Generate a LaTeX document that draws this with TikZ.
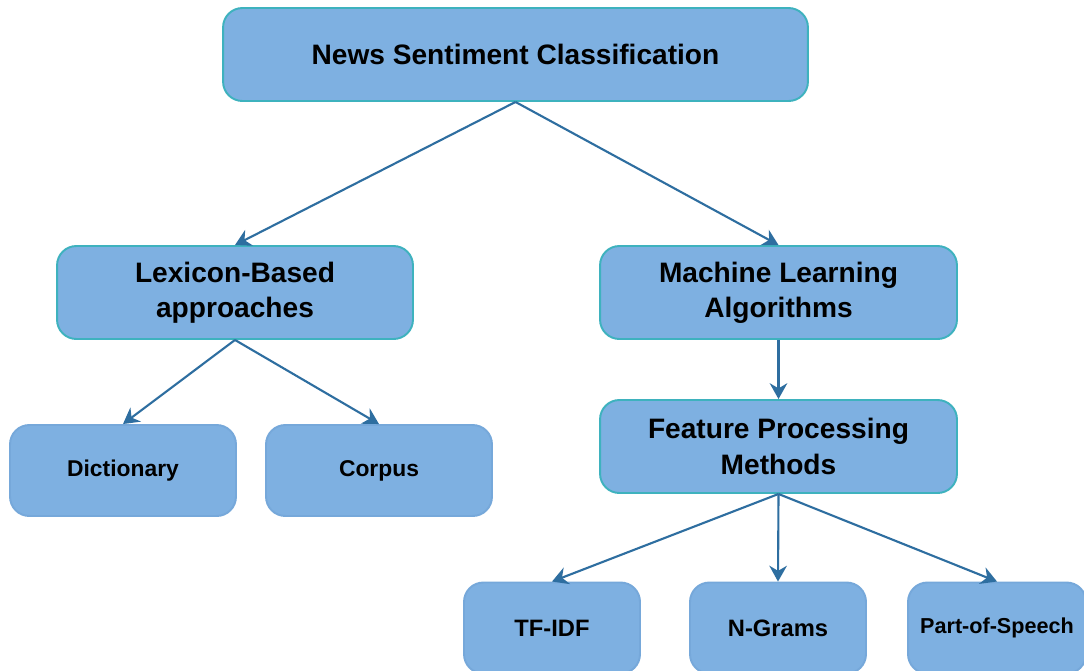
\documentclass[tikz,border=0pt]{standalone}
\usepackage{fontspec}
\setmainfont{Liberation Sans}
\usetikzlibrary{arrows.meta}
\definecolor{boxfill}{RGB}{126,176,225}
\definecolor{boxline}{RGB}{62,178,190}
\definecolor{leafline}{RGB}{118,168,218}
\definecolor{linkblue}{RGB}{46,110,160}
\tikzset{
  box/.style={draw=boxline, line width=1.1pt, fill=boxfill, rounded corners=11pt,
    align=center, minimum height=1.86cm, font=\bfseries\fontsize{16}{20}\selectfont},
  leaf/.style={box, draw=leafline, minimum height=1.82cm, minimum width=4.52cm,
    font=\bfseries\fontsize{13}{15}\selectfont},
  link/.style={draw=linkblue, line width=1.2pt, -{Stealth[length=9pt,width=10pt]}}
}
\begin{document}
\begin{tikzpicture}[x=0.02cm,y=-0.02cm]
    \clip (0,0) rectangle (1084,670);
    \fill[white] (0,0) rectangle (1084,670);
    \node[box, minimum width=11.7cm] (top) at (515.5,54.5) {News Sentiment Classification};
    \node[box, minimum width=7.12cm] (lex) at (235,292.5) {Lexicon-Based\\approaches};
    \node[box, minimum width=7.14cm] (ml) at (778.5,292.5) {Machine Learning\\Algorithms};
    \node[box, minimum width=7.14cm] (fpm) at (778.5,446.5) {Feature Processing\\Methods};
    \node[leaf] (dict) at (123,470.5) {Dictionary};
    \node[leaf] (corp) at (379,470.5) {Corpus};
    \node[leaf, minimum width=3.52cm, font=\bfseries\fontsize{13.5}{15}\selectfont] (tfidf) at (552,628) {TF-IDF};
    \node[leaf, minimum width=3.52cm, font=\bfseries\fontsize{13.5}{15}\selectfont] (ngram) at (778,628) {N-Grams};
    \node[leaf, minimum width=3.56cm, font=\bfseries\fontsize{12.3}{14}\selectfont] (pos) at (997,628) {Part-of-Speech};
    \foreach \a/\b in {top/lex, top/ml, lex/dict, lex/corp, ml/fpm, fpm/tfidf, fpm/ngram, fpm/pos}{
        \draw[link] (\a.south) -- (\b.north);
    }
\end{tikzpicture}
\end{document}
